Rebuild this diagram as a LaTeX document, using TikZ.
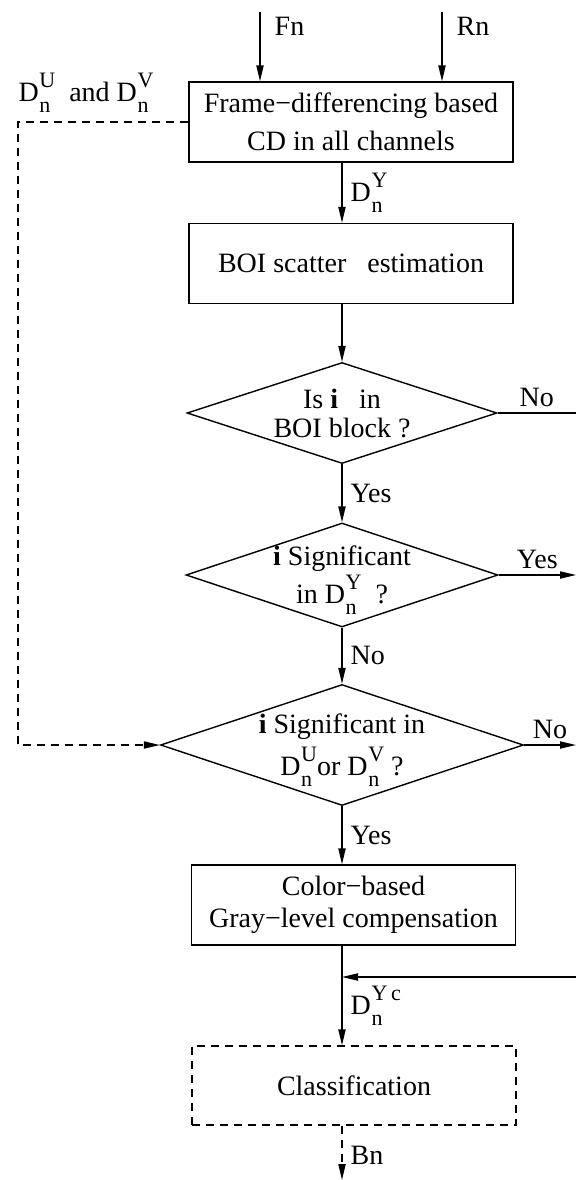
\documentclass[tikz,border=0pt]{standalone}
\usepackage{fontspec}
\setmainfont{Liberation Serif}
\usetikzlibrary{calc}
\usetikzlibrary{arrows.meta}
\usetikzlibrary{shapes.geometric}

% D with stacked sub n and superscript
\newcommand{\Dn}[1]{D\kern0.3pt\raisebox{-0.38em}[0pt][0pt]{\rlap{\fontsize{11}{11}\selectfont n}}\raisebox{0.52em}[0pt][0pt]{\fontsize{11}{11}\selectfont #1}}

\tikzset{
  arr/.style={-{Triangle[length=8pt,width=3.6pt]}},
  procbox/.style={draw,line width=0.7pt,minimum width=162pt,minimum height=40pt,align=center,inner sep=2pt},
  decide/.style={draw,diamond,line width=0.7pt,aspect=3,inner sep=0pt,align=center},
  lbl/.style={inner sep=1pt}
}

\begin{document}
\begin{tikzpicture}[x=0.5pt,y=-0.5pt,line width=0.7pt,font=\fontsize{14}{16}\selectfont]

\useasboundingbox (0,0) rectangle (576,1180);

\coordinate (fn) at (260,12);
\coordinate (rn) at (442,12);
\coordinate (corner) at (18,122);
\coordinate (fb) at (576,977);
\coordinate (bn) at (342,1180);

% boxes and decisions
\node[procbox] (cd) at (351,122) {Frame−differencing based\\[3pt]CD in all channels};
\node[procbox] (boi) at (351,263.5) {BOI scatter\ \ \ estimation};
\node[decide,minimum width=155pt,minimum height=50.5pt] (d1) at (342,413) {Is \textbf{i}\ \ \ in\\[-1.5pt]BOI block ?};
\node[decide,minimum width=155pt,minimum height=50.5pt] (d2) at (342,575) {\textbf{i} Significant\\[3pt]in \Dn{Y}\ \ ?};
\node[decide,minimum width=181.5pt,minimum height=60.5pt] (d3) at (342,745) {\textbf{i} Significant in\\[5pt]\Dn{U}or \Dn{V} ?};
\node[procbox] (comp) at (353.5,905) {Color−based\\Gray−level compensation};
\node[procbox,dashed,dash pattern=on 4pt off 3pt,minimum height=39.5pt] (cls) at (354,1085.5) {Classification};

% inputs
\draw[arr] (fn) -- (fn |- cd.north) node[lbl,pos=0.2,right=6pt] {Fn};
\draw[arr] (rn) -- (rn |- cd.north) node[lbl,pos=0.2,right=6pt] {Rn};

% main flow
\draw[arr] (cd.south -| d3) -- (boi.north -| d3) node[lbl,pos=0.5,right=3pt] {\Dn{Y}};
\draw[arr] (boi.south -| d3) -- (d1.north);
\draw[arr] (d1.south) -- (d2.north) node[lbl,midway,right=3pt] {Yes};
\draw[arr] (d2.south) -- (d3.north) node[lbl,midway,right=3pt] {No};
\draw[arr] (d3.south) -- (comp.north -| d3) node[lbl,midway,right=3pt] {Yes};
\draw[arr] (comp.south -| d3) -- (cls.north -| d3) node[lbl,pos=0.6,right=3pt] {\Dn{Y\,c}};
\draw[arr,dashed,dash pattern=on 4pt off 3pt] (cls.south -| d3) -- (bn) node[lbl,pos=0.55,right=3pt] {Bn};

% side outputs
\draw (d1.east) -- (d1.east -| fb) node[lbl,midway,above=2pt] {No};
\draw[arr] (d2.east) -- (d2.east -| fb) node[lbl,midway,above=2pt] {Yes};
\draw[arr] (d3.east) -- (d3.east -| fb) node[lbl,midway,above=2pt] {No};
\draw[arr] (fb) -- (fb -| d3);

% chrominance path
\draw[arr,dashed,dash pattern=on 4pt off 3pt] (cd.west |- corner) -- (corner) -- (corner |- d3.west) -- (d3.west);
\node[lbl] (uv) at (86,92) {\Dn{U}\ \ and \Dn{V}};

\end{tikzpicture}
\end{document}
